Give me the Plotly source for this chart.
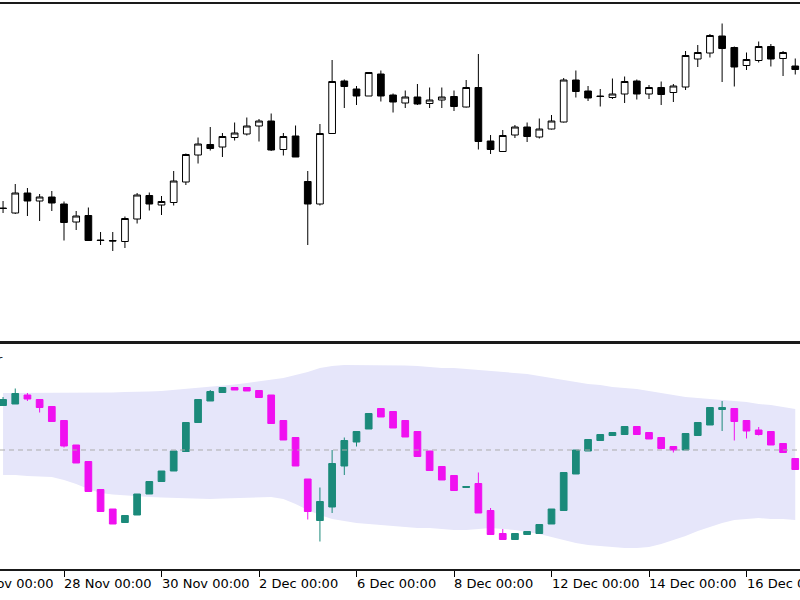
import plotly.graph_objects as go

# ---- categories: H6 bars (trading days only) ----
days = ["2022-11-24", "2022-11-25", "2022-11-28", "2022-11-29", "2022-11-30",
        "2022-12-01", "2022-12-02", "2022-12-05", "2022-12-06", "2022-12-07",
        "2022-12-08", "2022-12-09", "2022-12-12", "2022-12-13", "2022-12-14",
        "2022-12-15", "2022-12-16", "2022-12-19"]
hours = ["00:00", "06:00", "12:00", "18:00"]
bar_times = [f"{d} {h}" for d in days for h in hours][3:69]

# ---- price (top panel) ----
open_ = [1.0384, 1.0374, 1.0414, 1.0398, 1.0406, 1.0392, 1.0356, 1.0369, 1.0320, 1.0319,
         1.0317, 1.0362, 1.0409, 1.0390, 1.0395, 1.0436, 1.0490, 1.0511, 1.0506, 1.0525,
         1.0532, 1.0548, 1.0558, 1.0501, 1.0528, 1.0437, 1.0392, 1.0533, 1.0638, 1.0622,
         1.0608, 1.0652, 1.0610, 1.0594, 1.0606, 1.0593, 1.0600, 1.0607, 1.0586, 1.0625,
         1.0518, 1.0497, 1.0530, 1.0546, 1.0526, 1.0542, 1.0556, 1.0640, 1.0618, 1.0608,
         1.0605, 1.0612, 1.0638, 1.0612, 1.0625, 1.0615, 1.0626, 1.0682, 1.0694, 1.0728,
         1.0705, 1.0669, 1.0679, 1.0707, 1.0683, 1.0668]
high = [1.0398, 1.0432, 1.0424, 1.0412, 1.0418, 1.0397, 1.0378, 1.0385, 1.0336, 1.0336,
        1.0367, 1.0414, 1.0415, 1.0408, 1.0458, 1.0493, 1.0525, 1.0546, 1.0534, 1.0555,
        1.0565, 1.0562, 1.0573, 1.0534, 1.0549, 1.0458, 1.0552, 1.0680, 1.0641, 1.0628,
        1.0656, 1.0659, 1.0613, 1.0619, 1.0632, 1.0625, 1.0625, 1.0619, 1.0640, 1.0692,
        1.0530, 1.0540, 1.0550, 1.0555, 1.0563, 1.0570, 1.0644, 1.0659, 1.0628, 1.0622,
        1.0643, 1.0647, 1.0641, 1.0630, 1.0637, 1.0632, 1.0698, 1.0710, 1.0732, 1.0753,
        1.0707, 1.0695, 1.0717, 1.0712, 1.0698, 1.0683]
low = [1.0374, 1.0372, 1.0368, 1.0358, 1.0378, 1.0319, 1.0340, 1.0318, 1.0310, 1.0298,
       1.0304, 1.0353, 1.0379, 1.0370, 1.0389, 1.0430, 1.0473, 1.0499, 1.0486, 1.0519,
       1.0529, 1.0517, 1.0498, 1.0489, 1.0486, 1.0310, 1.0389, 1.0532, 1.0584, 1.0590,
       1.0608, 1.0597, 1.0575, 1.0584, 1.0590, 1.0584, 1.0584, 1.0578, 1.0585, 1.0501,
       1.0492, 1.0496, 1.0524, 1.0516, 1.0523, 1.0541, 1.0555, 1.0605, 1.0598, 1.0587,
       1.0602, 1.0594, 1.0601, 1.0602, 1.0590, 1.0596, 1.0620, 1.0666, 1.0685, 1.0636,
       1.0627, 1.0660, 1.0675, 1.0667, 1.0648, 1.0651]
close = [1.0383, 1.0414, 1.0398, 1.0406, 1.0394, 1.0355, 1.0368, 1.0319, 1.0319, 1.0318,
         1.0363, 1.0410, 1.0392, 1.0397, 1.0438, 1.0491, 1.0512, 1.0503, 1.0527, 1.0534,
         1.0548, 1.0558, 1.0500, 1.0527, 1.0486, 1.0392, 1.0533, 1.0637, 1.0627, 1.0608,
         1.0655, 1.0608, 1.0596, 1.0606, 1.0592, 1.0600, 1.0606, 1.0587, 1.0625, 1.0517,
         1.0501, 1.0529, 1.0546, 1.0527, 1.0542, 1.0558, 1.0640, 1.0617, 1.0604, 1.0607,
         1.0612, 1.0637, 1.0612, 1.0625, 1.0611, 1.0628, 1.0689, 1.0695, 1.0729, 1.0703,
         1.0666, 1.0681, 1.0707, 1.0682, 1.0695, 1.0661]

# ---- oscillator (bottom panel) ----
osc_open = [44.5, 46, 55, 50.5, 43.5, 29.5, 5, -11.5, -39.5, -59,
            -72.5, -65, -44, -31.5, -21, -1.5, 27.5, 49, 57.5, 62.5,
            62.5, 59.5, 55, 29.5, 12.5, -29, -70.5, -57, -16, 8,
            21, 41.5, 38.5, 29.5, 18.5, -1, -16.5, -25.5, -37.5, -33.5,
            -60.5, -83.5, -89.5, -84.5, -83.5, -74, -60.5, -24, -1, 9.5,
            14.5, 15.5, 23.5, 17.5, 12.5, 3.5, 0, 14.5, 25, 40.5,
            41.5, 29.5, 20, 18.5, 6.5, -8.5]
osc_high = [53, 61.5, 57, 50.5, 43.5, 29.5, 5, -11.5, -39.5, -59,
            -65.5, -44, -31.5, -21, -1, 27.5, 50.5, 60, 62.5, 62.5,
            62.5, 59.5, 55, 29.5, 12.5, -29, -37.5, 0, 12.5, 18.5,
            36.5, 41.5, 38.5, 29.5, 18.5, -1, -16.5, -25.5, -36.5, -22.5,
            -58, -79, -83.5, -81.5, -74.5, -59, -22.5, 0, 10.5, 15.5,
            17.5, 23.5, 23.5, 17.5, 12.5, 3.5, 16.5, 27.5, 42.5, 49,
            41.5, 29.5, 23, 18.5, 6.5, -8.5]
osc_low = [44.5, 46, 49, 37.5, 28.5, 2.5, -13, -41.5, -61.5, -74,
           -72.5, -65, -44, -31.5, -21, -1.5, 27.5, 49, 57.5, 60,
           59, 52.5, 26.5, 10, -16, -69.5, -91.5, -63, -25, 3.5,
           21, 33, 22, 13, -6.5, -20.5, -30, -40.5, -37.5, -63,
           -84.5, -89.5, -89.5, -84.5, -83.5, -74, -60.5, -24, -1, 9.5,
           14.5, 15.5, 15.5, 11, 1.5, -2.5, 0, 14.5, 25, 19,
           9.5, 11.5, 14.5, 5, -2.5, -19.5]
osc_close = [50.5, 56.5, 51, 42.5, 28.5, 4, -13, -41.5, -61.5, -74,
             -65.5, -44, -31.5, -21, -1, 27.5, 50.5, 58.5, 62.5, 60,
             59, 52.5, 26.5, 10, -16, -61.5, -51.5, -13.5, 9.5, 18.5,
             36.5, 33, 22, 13, -6.5, -20.5, -30, -40.5, -36.5, -63,
             -84.5, -89.5, -83.5, -81.5, -74.5, -59, -22.5, 0, 10.5, 15.5,
             17.5, 23.5, 15.5, 11, 1.5, 0, 16.5, 27.5, 42.5, 42.5,
             28.5, 19, 15.5, 5, -2.5, -19.5]
band_upper = [57, 57, 57, 57, 57, 57, 57, 57, 57, 57.5,
              58, 58, 58.5, 59, 60, 61, 62, 63, 64, 65.5,
              67, 68.5, 70, 72, 75, 78, 82, 84, 85, 85,
              85, 85, 85, 84.5, 84, 83, 82, 82, 81, 80,
              79, 78, 77, 76, 74, 72, 70, 68, 66, 65,
              63, 62, 61, 59, 57, 55, 53, 52, 51, 50,
              49, 48, 46, 45, 43, 41]
band_lower = [-25, -25, -26, -26.5, -27, -30, -34, -39, -43, -44.5,
              -45.5, -46, -47, -47.5, -48, -48.5, -49, -49, -48.5, -48,
              -47.5, -47.5, -47, -49, -54, -60, -65, -69, -71, -73,
              -74, -75, -76, -77, -78, -78, -79, -80, -80, -79,
              -78, -79, -80, -82, -84, -87, -90, -93, -95, -96,
              -97, -98, -98, -97, -94, -90, -86, -81, -77, -73,
              -70, -69, -68, -69, -69, -70]

# ---- axis labels ----
tick_times = ["2022-11-24 00:00", "2022-11-28 00:00", "2022-11-30 00:00", "2022-12-02 00:00",
              "2022-12-06 00:00", "2022-12-08 00:00", "2022-12-12 00:00", "2022-12-14 00:00",
              "2022-12-16 00:00"]
tick_labels = ["24 Nov 00:00", "28 Nov 00:00", "30 Nov 00:00", "2 Dec 00:00", "6 Dec 00:00",
               "8 Dec 00:00", "12 Dec 00:00", "14 Dec 00:00", "16 Dec 00:00"]
indicator_label = "r"

TEAL = "#1B8A7A"
MAGENTA = "#F010F0"
LAVENDER = "#E6E6FA"
FONT = "DejaVu Sans"

x_range = [-0.251, 65.39]
osc_range = [-119, 106]

fig = go.Figure()

fig.add_trace(go.Candlestick(
    x=bar_times, open=open_, high=high, low=low, close=close,
    xaxis="x", yaxis="y", whiskerwidth=0, showlegend=False, hoverinfo="skip",
    increasing=dict(line=dict(color="black", width=1), fillcolor="white"),
    decreasing=dict(line=dict(color="black", width=1), fillcolor="black"),
))

# envelope band (base subplot x2/y2)
fig.add_trace(go.Scatter(
    x=bar_times, y=band_lower, mode="lines", line=dict(width=0, color=LAVENDER),
    xaxis="x2", yaxis="y2", showlegend=False, hoverinfo="skip"))
fig.add_trace(go.Scatter(
    x=bar_times, y=band_upper, mode="lines", line=dict(width=0, color=LAVENDER),
    fill="tonexty", fillcolor=LAVENDER,
    xaxis="x2", yaxis="y2", showlegend=False, hoverinfo="skip"))

# oscillator candles on an overlaying subplot so they draw above the band
fig.add_trace(go.Candlestick(
    x=bar_times, open=osc_open, high=osc_high, low=osc_low, close=osc_close,
    xaxis="x3", yaxis="y3", whiskerwidth=0, showlegend=False, hoverinfo="skip",
    increasing=dict(line=dict(color=TEAL, width=1), fillcolor=TEAL),
    decreasing=dict(line=dict(color=MAGENTA, width=1), fillcolor=MAGENTA),
))

# zero level (dashed)
fig.add_shape(type="line", xref="x2 domain", x0=0, x1=1, yref="y2", y0=0, y1=0,
              line=dict(color="#ABABAB", width=1, dash="5px,4px"), layer="above")

# bottom time labels (left-aligned at their tick like the terminal)
label_y = 1 - 583 / 600
for t, lab in zip(tick_times, tick_labels):
    if t in bar_times:
        fig.add_annotation(x=t, xref="x2", y=label_y, yref="paper", text=lab,
                           showarrow=False, xanchor="left", yanchor="middle", xshift=-2,
                           font=dict(family=FONT, size=13, color="black"))
    else:
        pos = -3  # bar index of this time relative to first bar (24 Nov 18:00)
        px = (pos - x_range[0]) / (x_range[1] - x_range[0])
        fig.add_annotation(x=px, xref="paper", y=label_y, yref="paper", text=lab,
                           showarrow=False, xanchor="left", yanchor="middle", xshift=-2,
                           font=dict(family=FONT, size=13, color="black"))

fig.add_annotation(x=5 / 800, xref="paper", y=1 - 359 / 600, yref="paper",
                   text=indicator_label, showarrow=False, xanchor="right", yanchor="middle",
                   font=dict(family=FONT, size=13, color="black"))

common_x = dict(type="category", range=x_range, showgrid=False, zeroline=False,
                rangeslider=dict(visible=False), fixedrange=True)
common_y = dict(showgrid=False, zeroline=False, showline=False, showticklabels=False,
                ticks="", fixedrange=True)
frame = dict(showline=True, mirror=True, linecolor="#1A1A1A", linewidth=2)

osc_domain = [1 - 569 / 600, 1 - 344 / 600]

fig.update_layout(
    width=800, height=600,
    margin=dict(l=0, r=0, t=0, b=0),
    paper_bgcolor="white", plot_bgcolor="white",
    boxgap=0.45, boxgroupgap=0,
    xaxis=dict(domain=[0, 1], anchor="y", showticklabels=False, ticks="", **frame, **common_x),
    yaxis=dict(domain=[1 - 341 / 600, 1 - 4 / 600], range=[1.0118, 1.0792], anchor="x", **common_y),
    xaxis2=dict(domain=[0, 1], anchor="y2", showticklabels=False, ticks="outside",
                tickvals=[t for t in tick_times if t in bar_times], ticklen=6, tickwidth=1,
                tickcolor="black", **frame, **common_x),
    yaxis2=dict(domain=osc_domain, range=osc_range, anchor="x2", **common_y),
    xaxis3=dict(overlaying="x2", anchor="y3", showticklabels=False, ticks="",
                showline=False, visible=False, **common_x),
    yaxis3=dict(overlaying="y2", anchor="x3", range=osc_range, visible=False, **common_y),
    font=dict(family=FONT),
)

fig.write_html("out.html", config={"displayModeBar": False})
